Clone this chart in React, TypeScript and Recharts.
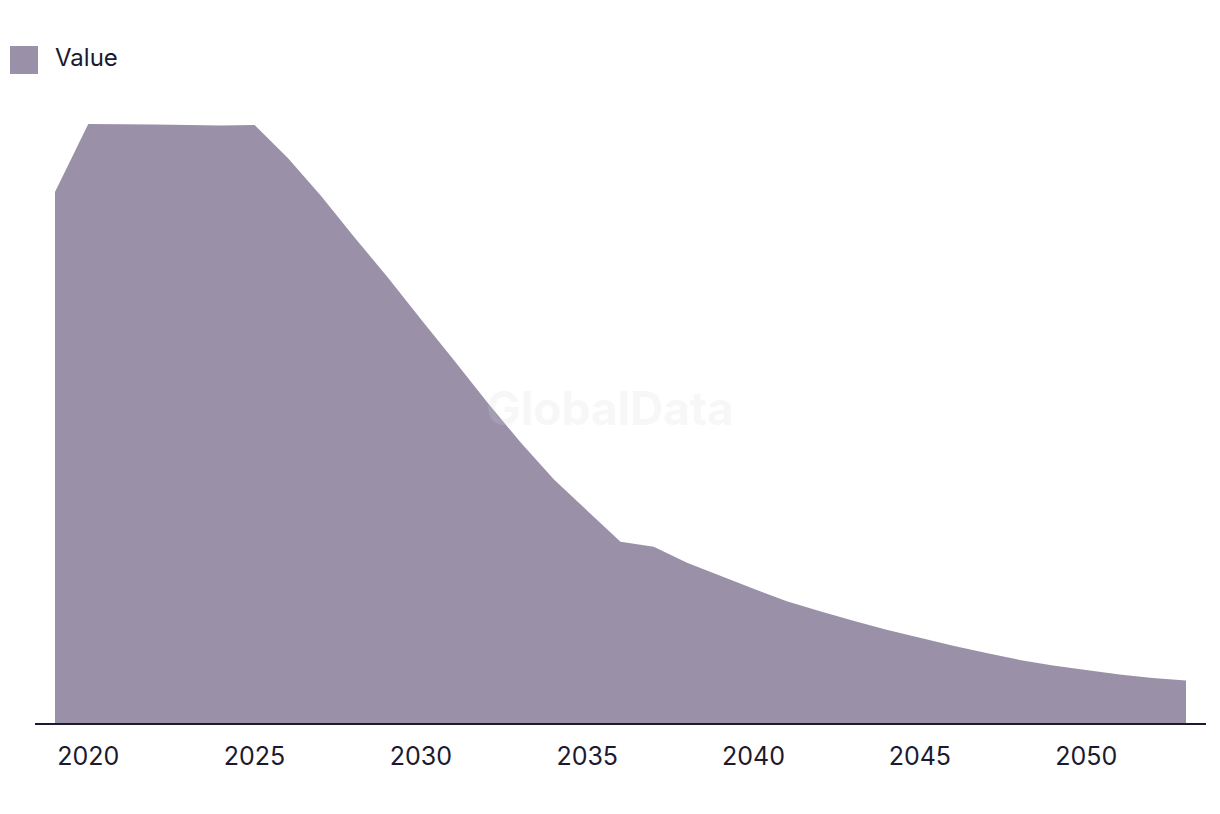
import { AreaChart, Area, XAxis, YAxis } from 'recharts';

const years = [
  2019, 2020, 2021, 2022, 2023, 2024, 2025, 2026, 2027, 2028, 2029, 2030,
  2031, 2032, 2033, 2034, 2035, 2036, 2037, 2038, 2039, 2040, 2041, 2042,
  2043, 2044, 2045, 2046, 2047, 2048, 2049, 2050, 2051, 2052, 2053,
];

const values = [
  531, 599, 598.7, 598.4, 598, 597.6, 598, 565, 527, 486, 446, 404,
  363, 321, 281, 244, 213, 182, 177, 161, 148, 135, 122.5, 112.5,
  103, 94, 86, 78, 71, 64, 58.5, 54, 49.5, 46, 43.5,
];

const tickYears = [2020, 2025, 2030, 2035, 2040, 2045, 2050];

const data = years.map((year, i) => ({ year, value: values[i] }));

const ink = '#1b1a30';
const fill = '#9a91a9';
const font = 'Inter, "Noto Sans", sans-serif';

export default function App() {
  return (
    <div style={{ position: 'absolute', left: 0, top: 0, width: 1220, height: 814, background: '#fff' }}>
      {/* legend */}
      <div style={{ position: 'absolute', left: 10, top: 46, display: 'flex', alignItems: 'center', fontFamily: font }}>
        <span style={{ display: 'inline-block', width: 28, height: 28, background: fill }} />
        <span style={{ marginLeft: 17, fontSize: 24, color: ink, lineHeight: '24px', marginTop: -4 }}>Value</span>
      </div>
      <AreaChart width={1220} height={814} data={data} margin={{ top: 123, right: 14, left: 35, bottom: 30 }}>
        <XAxis
          dataKey="year"
          type="number"
          domain={[2019, 2053]}
          ticks={tickYears}
          padding={{ left: 20, right: 20 }}
          axisLine={{ stroke: ink, strokeWidth: 2 }}
          tickLine={false}
          tickSize={0}
          tickMargin={23}
          height={60}
          tick={{ fill: ink, fontSize: 25, fontFamily: font }}
        />
        <YAxis hide domain={[0, 600]} />
        <Area
          type="linear"
          dataKey="value"
          stroke="none"
          fill={fill}
          fillOpacity={1}
          isAnimationActive={false}
        />
      </AreaChart>
      <div
        style={{
          position: 'absolute',
          left: 0,
          width: 1220,
          top: 380,
          textAlign: 'center',
          fontFamily: font,
          fontWeight: 700,
          fontSize: 46,
          color: 'rgba(213,213,213,0.19)',
          pointerEvents: 'none',
        }}
      >
        GlobalData
      </div>
    </div>
  );
}
